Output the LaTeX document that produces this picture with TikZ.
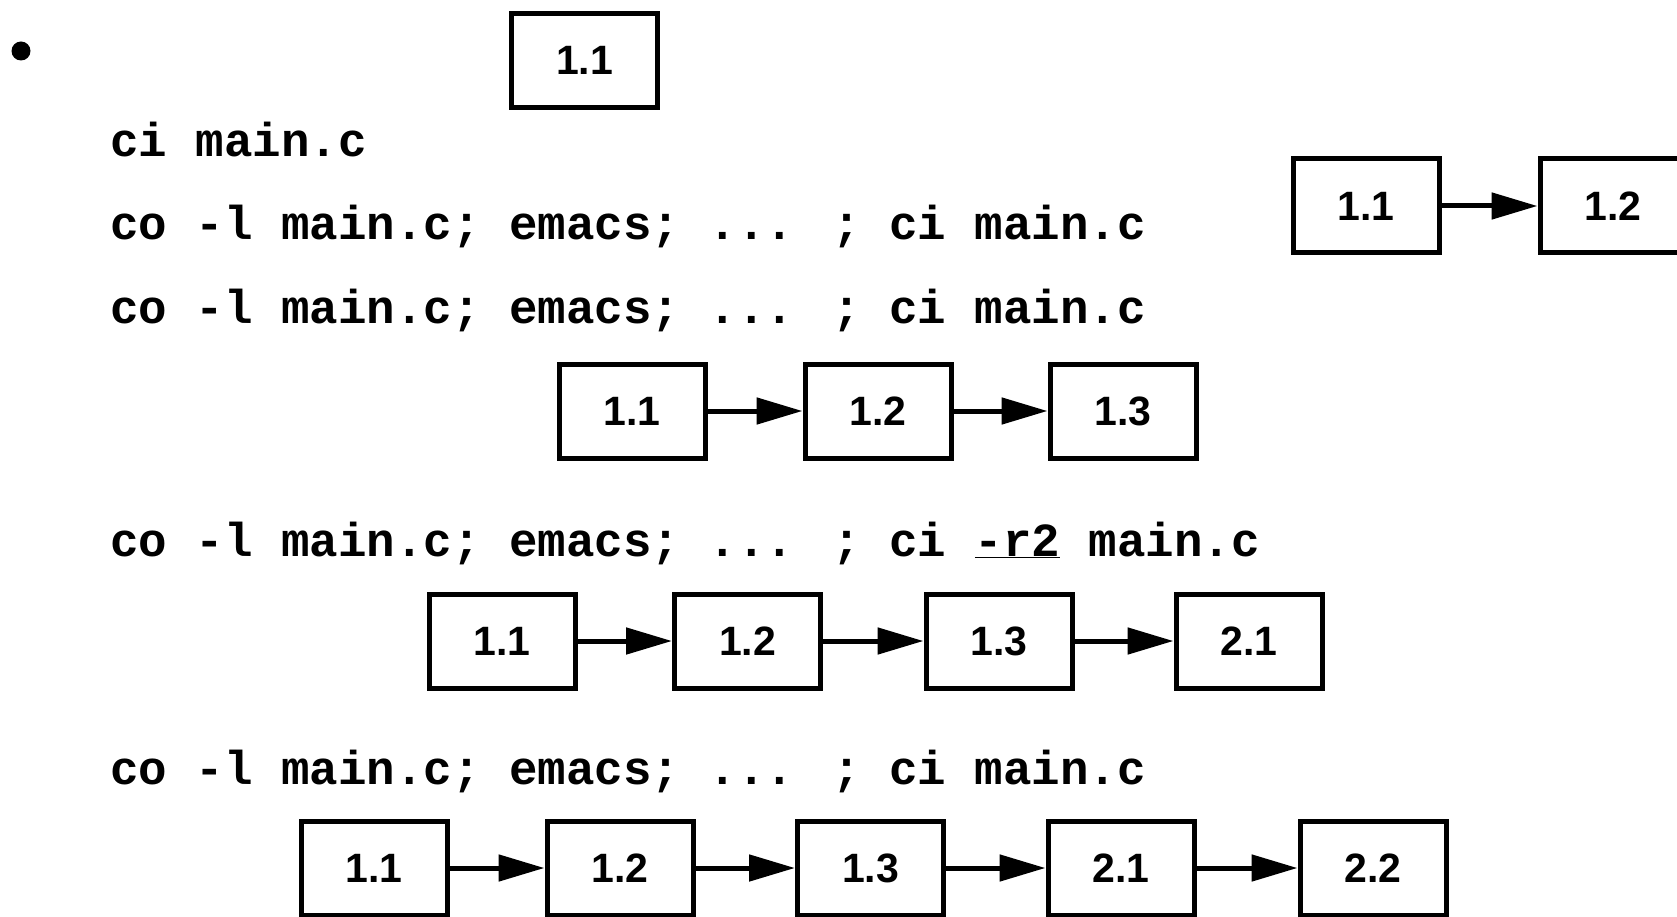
\documentclass[tikz,border=0pt]{standalone}
\usepackage{fontspec}
\setmainfont{Liberation Sans}
\newfontfamily\codefont{Liberation Mono}
\usetikzlibrary{arrows.meta}
\tikzset{
  ver/.style={draw, line width=5pt, minimum width=146pt, minimum height=94pt, inner sep=0pt,
    font=\fontsize{41}{44}\selectfont\bfseries},
  code/.style={anchor=base west, inner sep=0pt, font=\fontsize{47.5}{50}\selectfont\codefont\bfseries},
  link/.style={line width=5pt, -{Triangle[length=46pt,width=26pt]}},
}
\begin{document}
\begin{tikzpicture}[x=1pt,y=-1pt]
\useasboundingbox (0,0) rectangle (1677,917);
\fill (21,51) circle (9.5pt);
\node[ver] (t11) at (584.5,60.5) {1.1};
\node[code] (l1) at (110,157) {ci main.c};
\node[code] (l2) at (110,240) {co -l main.c; emacs; ... ; ci main.c};
\node[code] (l3) at (110,323) {co -l main.c; emacs; ... ; ci main.c};
\node[code] (l4) at (110,556) {co -l main.c; emacs; ... ; ci \underline{-r2} main.c};
\node[code] (l5) at (110,784) {co -l main.c; emacs; ... ; ci main.c};
% right pair
\node[ver] (a11) at (1366,206) {1.1};
\node[ver] (a12) at (1613,206) {1.2};
\draw[link] (a11) -- (a12);
% row 3
\node[ver] (b11) at (632,411) {1.1};
\node[ver] (b12) at (878,411) {1.2};
\node[ver] (b13) at (1123,411) {1.3};
\draw[link] (b11) -- (b12);
\draw[link] (b12) -- (b13);
% row 4
\node[ver] (c11) at (502,641) {1.1};
\node[ver] (c12) at (747.5,641) {1.2};
\node[ver] (c13) at (999,641) {1.3};
\node[ver] (c21) at (1249,641) {2.1};
\draw[link] (c11) -- (c12);
\draw[link] (c12) -- (c13);
\draw[link] (c13) -- (c21);
% row 5
\node[ver] (d11) at (374,868) {1.1};
\node[ver] (d12) at (620,868) {1.2};
\node[ver] (d13) at (870.5,868) {1.3};
\node[ver] (d21) at (1121,868) {2.1};
\node[ver] (d22) at (1373,868) {2.2};
\draw[link] (d11) -- (d12);
\draw[link] (d12) -- (d13);
\draw[link] (d13) -- (d21);
\draw[link] (d21) -- (d22);
\end{tikzpicture}
\end{document}
